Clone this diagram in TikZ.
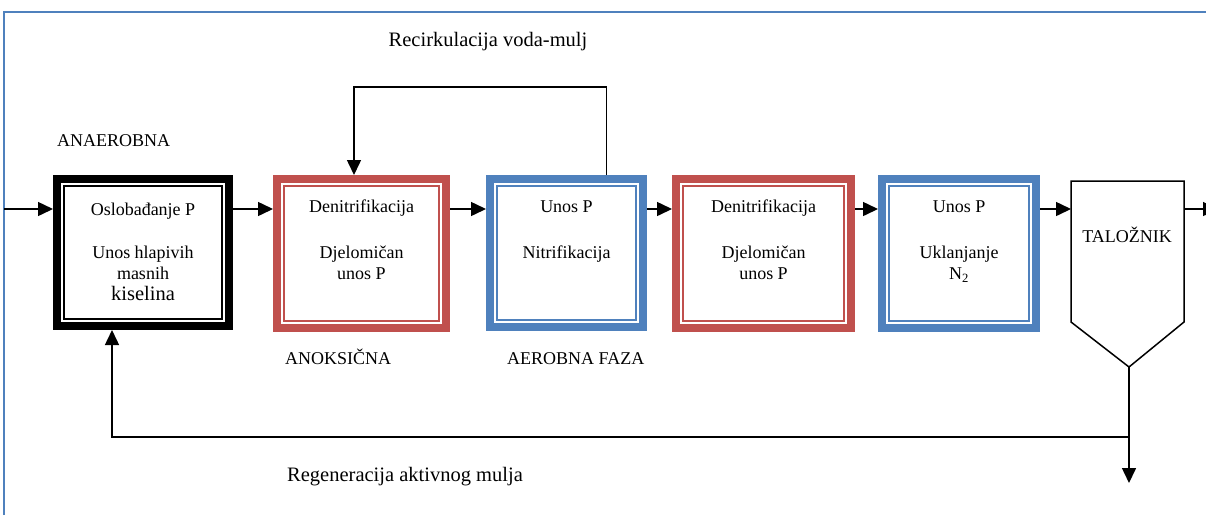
\documentclass[tikz,border=0pt]{standalone}
\usepackage{fontspec}
\setmainfont{Liberation Serif}
\usetikzlibrary{arrows.meta,positioning,calc}
\definecolor{stagered}{RGB}{192,80,77}
\definecolor{stageblue}{RGB}{79,129,189}
\def\innerframe[#1](#2)% Syntax: [colour] (stage node) -- thin line inside the thick border
{ \draw[#1,line width=1.6pt] ([shift={(11,11)}]#2.north west) rectangle ([shift={(-11,-11)}]#2.south east); }

\begin{document}
\begin{tikzpicture}[x=1pt,y=-1pt,
	stage/.style={draw=#1, line width=8pt, inner sep=0pt, minimum height=149pt},
	txt/.style={font=\fontsize{18}{21}\selectfont, align=center, inner sep=0pt, anchor=north},
	lbl/.style={font=\fontsize{18}{22}\selectfont, inner sep=0pt, anchor=base west},
	flow/.style={line width=1.5pt, -{Triangle[length=15pt,width=14pt]}}]
			\useasboundingbox (0,0) rectangle (1206,515);
			%frame
			\draw[stageblue, line width=1.5pt] (4,515) -- (4,12) -- (1206,12);
			%stages
			\node[stage=black, minimum width=172pt, minimum height=147pt] (b1) at (143,252.5) {};
			\node[stage=stagered, minimum width=169pt] (b2) at (361.5,253.5) {};
			\node[stage=stageblue, minimum width=153pt, minimum height=148pt] (b3) at (566.5,253) {};
			\node[stage=stagered, minimum width=175pt] (b4) at (763.5,253.5) {};
			\node[stage=stageblue, minimum width=154pt] (b5) at (959,253.5) {};
			\innerframe[black](b1);
			\innerframe[stagered](b2);
			\innerframe[stageblue](b3);
			\innerframe[stagered](b4);
			\innerframe[stageblue](b5);
			%settling tank
			\draw[line width=1.5pt] (1071,181) -- (1184,181) -- (1184,322) -- (1129,367) -- (1071,322) -- cycle;
			\coordinate (tankW) at (1071,209);
			\coordinate (tankE) at (1184,209);
			\coordinate (tip) at (1129,367);
			%texts in stages
			\node[txt] (t1) at (143,203) {Oslobađanje P\\[22pt]Unos hlapivih\\masnih\\{\fontsize{20.5}{21}\selectfont kiselina}};
			\node[txt] (t2) at (361.5,200) {Denitrifikacija\\[25pt]Djelomičan\\unos P};
			\node[txt] (t3) at (566.5,200.5) {Unos P\\[25pt]Nitrifikacija};
			\node[txt] (t4) at (763.5,200) {Denitrifikacija\\[25pt]Djelomičan\\unos P};
			\node[txt] (t5) at (959,200.5) {Unos P\\[25pt]Uklanjanje\\N\textsubscript{2}};
			\node[lbl, anchor=base] (tank) at (1127,242) {TALOŽNIK};
			%main flow
			\coordinate (row) at (0,209);
			\coordinate (inlet) at (4,209);
			\coordinate (outlet) at (1218,209);
			\draw[flow] (inlet) -- (b1.west |- row);
			\foreach \a/\b in {b1/b2,b2/b3,b3/b4,b4/b5}
				\draw[flow] (\a.east |- row) -- (\b.west |- row);
			\draw[flow] (b5.east |- row) -- (tankW);
			\draw[flow] (tankE) -- (outlet);
			%recirculation
			\coordinate (recirc) at (0,87);
			\draw[flow] ([xshift=40pt]b3.north) -- ([xshift=40pt]b3.north |- recirc) -| ([xshift=-7.5pt]b2.north);
			%sludge return
			\coordinate (ret) at (1129,437);
			\coordinate (drain) at (1129,483);
			\draw[flow] (tip) -- (drain);
			\draw[flow] (ret) -| ([xshift=-31pt]b1.south);
			%labels
			\node[lbl, font=\fontsize{20.5}{22}\selectfont, anchor=base] (reclbl) at (488,46.7) {Recirkulacija voda-mulj};
			\node[lbl] (anaer) at (57,146.7) {ANAEROBNA};
			\node[lbl] (anoks) at (285,364) {ANOKSIČNA};
			\node[lbl] (aerob) at (507,364) {AEROBNA FAZA};
			\node[lbl, font=\fontsize{20.5}{22}\selectfont] (regen) at (287,481) {Regeneracija aktivnog mulja};
\end{tikzpicture}
\end{document}
